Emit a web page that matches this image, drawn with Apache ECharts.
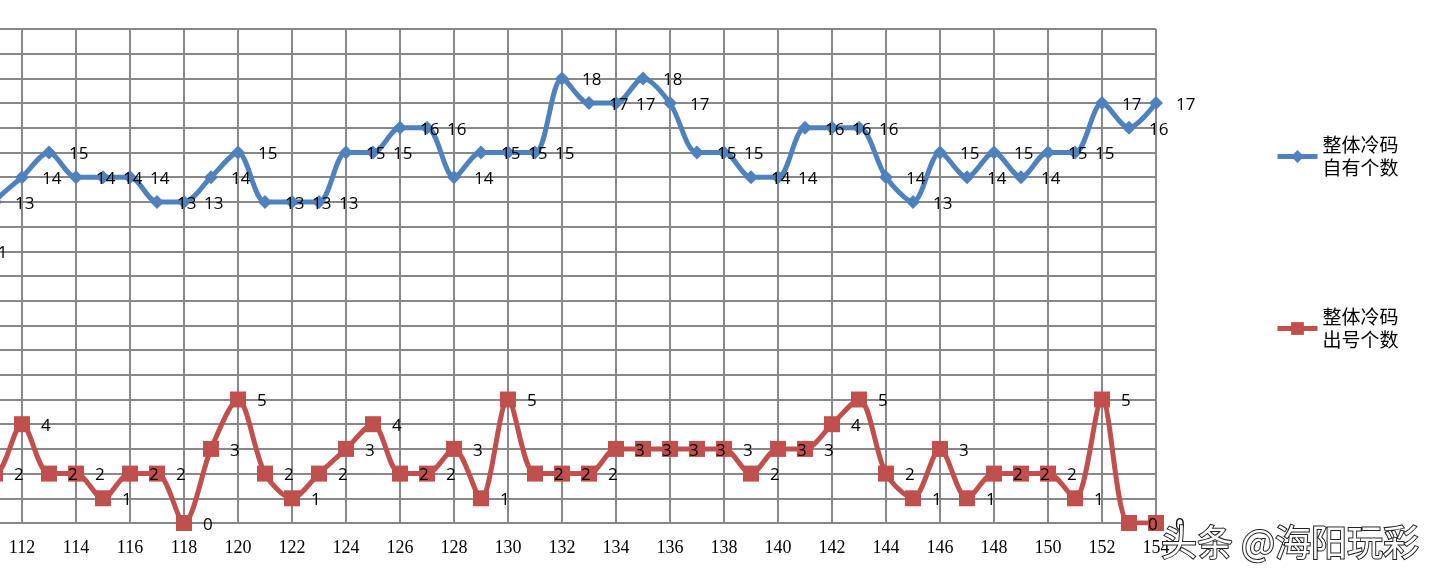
<!DOCTYPE html>
<html>
<head>
<meta charset="utf-8">
<script src="https://cdn.jsdelivr.net/npm/echarts@6/dist/echarts.min.js"></script>
<style>
html,body{margin:0;padding:0;background:#fff;}
#c{width:1438px;height:580px;}
</style>
</head>
<body>
<div id="c"></div>
<script>
var categories = ['110','111','112','113','114','115','116','117','118','119','120','121','122','123','124','125','126','127','128','129','130','131','132','133','134','135','136','137','138','139','140','141','142','143','144','145','146','147','148','149','150','151','152','153','154'];
var ownCount = [11,13,14,15,14,14,14,13,13,14,15,13,13,13,15,15,16,16,14,15,15,15,18,17,17,18,17,15,15,14,14,16,16,16,14,13,15,14,15,14,15,15,17,16,17];
var drawnCount = [2,2,4,2,2,1,2,2,0,3,5,2,1,2,3,4,2,2,3,1,5,2,2,2,3,3,3,3,3,2,3,3,4,5,2,1,3,1,2,2,2,1,5,0,0];
var seriesNames = ['整体冷码\n自有个数', '整体冷码\n出号个数'];
var watermark = '头条 @海阳玩彩';

var chart = echarts.init(document.getElementById('c'));
var labelStyle = {
  show: true, position: 'right', color: '#000',
  fontFamily: 'Open Sans', fontSize: 17, offset: [0, 2]
};
chart.setOption({
  animation: false,
  backgroundColor: '#fff',
  grid: { left: -32, right: 282, top: 29, bottom: 57, containLabel: false, outerBoundsMode: 'none' },
  legend: {
    orient: 'vertical', left: 1270, top: 117,
    itemWidth: 40, itemHeight: 16, itemGap: 103,
    lineStyle: { width: 5 },
    textStyle: { fontFamily: 'Noto Sans CJK SC', fontSize: 19, color: '#000', lineHeight: 23, padding: [23, 0, 0, 0] },
    data: seriesNames
  },
  xAxis: {
    type: 'category', boundaryGap: false, data: categories,
    axisLine: { lineStyle: { color: '#888', width: 2 } },
    axisTick: { show: false, interval: 1 },
    axisLabel: { interval: 1, color: '#000', fontFamily: 'Liberation Serif', fontSize: 18, margin: 16 },
    splitLine: { show: true, interval: 1, lineStyle: { color: '#888', width: 2 } }
  },
  yAxis: {
    type: 'value', min: 0, max: 20, interval: 1,
    axisLine: { show: false }, axisTick: { show: false }, axisLabel: { show: false },
    splitLine: { show: true, lineStyle: { color: '#888', width: 2 } }
  },
  series: [
    {
      name: seriesNames[0], type: 'line', data: ownCount, smooth: 0.3,
      symbol: 'diamond', symbolSize: 14,
      itemStyle: { color: '#4F81BD' },
      lineStyle: { color: '#4F81BD', width: 5 },
      label: Object.assign({}, labelStyle, { distance: 13 })
    },
    {
      name: seriesNames[1], type: 'line', data: drawnCount, smooth: 0.3,
      symbol: 'rect', symbolSize: 16,
      itemStyle: { color: '#C0504D' },
      lineStyle: { color: '#C0504D', width: 5 },
      label: Object.assign({}, labelStyle, { distance: 11 })
    }
  ],
  graphic: [{
    type: 'text', left: 1160, top: 523, z: 100,
    style: {
      text: watermark, fontFamily: 'Noto Sans CJK SC', fontSize: 36,
      fill: '#fff', stroke: '#222', lineWidth: 2
    }
  }]
});
</script>
</body>
</html>
